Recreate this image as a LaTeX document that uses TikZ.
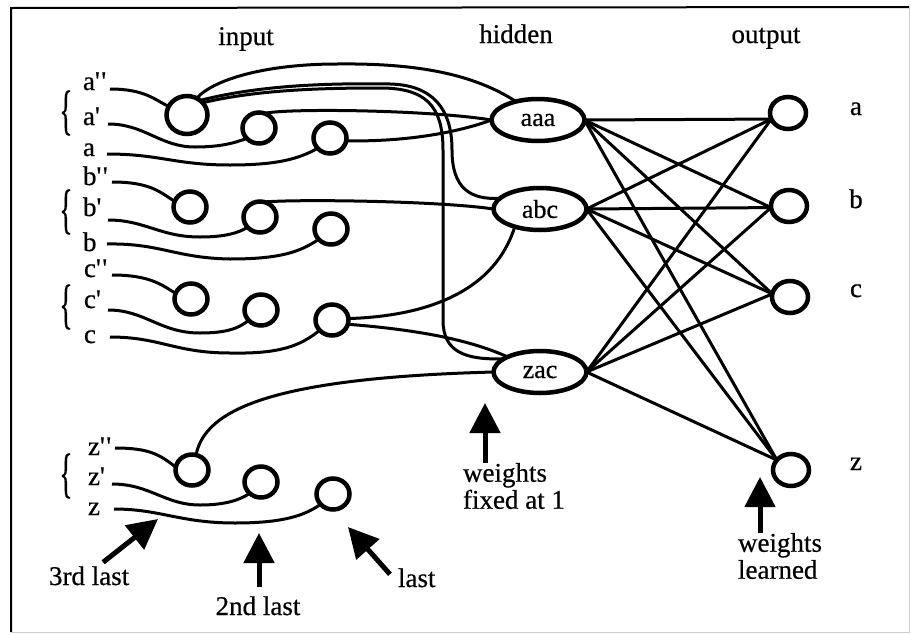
\documentclass[tikz,border=0pt]{standalone}
\usepackage{fontspec}
\setmainfont{Liberation Serif}[FakeBold=0.6]
\usepackage{graphicx}
\usetikzlibrary{arrows.meta,shapes.geometric}
\newcommand{\pr}{\textquotesingle}
\newcommand{\ppr}{\textquotesingle\kern1.5pt\textquotesingle}
\begin{document}
\begin{tikzpicture}[x=1pt,y=-1pt,
  every node/.style={font=\fontsize{27}{27}\selectfont, inner sep=0pt, outer sep=0pt},
  inc/.style={ellipse, draw, line width=4.5pt, minimum width=33pt, minimum height=31pt},
  bigc/.style={inc, minimum width=41pt, minimum height=38pt},
  hid/.style={ellipse, draw, line width=4.5pt, minimum width=93pt, minimum height=42pt, font=\fontsize{26}{26}\selectfont},
  outc/.style={ellipse, draw, line width=4.5pt, minimum width=36pt, minimum height=32pt},
  wire/.style={line width=3pt},
  link/.style={line width=3pt},
  bigarr/.style={line width=5pt, -{Triangle[length=30pt,width=30pt]}},
  lbl/.style={anchor=base west},
  brc/.style={anchor=center}
]
\useasboundingbox (0,0) rectangle (911,635);
% frame
\draw[line width=2pt] (11,632) -- (11,8) -- (909,7);
\draw[line width=1pt, black!20] (909,7) -- (909,632) -- (11,632);

% headers
\node[anchor=base] (hin) at (246,45) {input};
\node[anchor=base] (hhid) at (516,43) {hidden};
\node[anchor=base] (hout) at (766,43) {output};

% left labels
\node[lbl] (ta2) at (83,90) {a\ppr};
\node[lbl] (ta1) at (83,125) {a\pr};
\node[lbl] (ta0) at (83,156) {a};
\node[lbl] (tb2) at (83,185) {b\ppr};
\node[lbl] (tb1) at (83,216) {b\pr};
\node[lbl] (tb0) at (83,251) {b};
\node[lbl] (tc2) at (84,277) {c\ppr};
\node[lbl] (tc1) at (84,308) {c\pr};
\node[lbl] (tc0) at (84,343) {c};
\node[lbl] (tz2) at (88,455) {z\ppr};
\node[lbl] (tz1) at (88,485) {z\pr};
\node[lbl] (tz0) at (88,515) {z};

% braces
\node[brc] (bra) at (66,113) {\scalebox{1}[2]{\{}};
\node[brc] (brb) at (66,212) {\scalebox{1}[2]{\{}};
\node[brc] (brc) at (66,307) {\scalebox{1}[2]{\{}};
\node[brc] (brz) at (66,476) {\scalebox{1}[2]{\{}};

% input units
\node[bigc] (a2) at (187,115) {};
\node[inc] (a1) at (259,128) {};
\node[inc] (a0) at (330,138) {};
\node[inc] (b2) at (190,207) {};
\node[inc] (b1) at (260,217) {};
\node[inc] (b0) at (331,229) {};
\node[inc] (c2) at (191,299) {};
\node[inc] (c1) at (261,310) {};
\node[inc] (c0) at (332,320) {};
\node[inc] (z2) at (192,470) {};
\node[inc] (z1) at (261,482) {};
\node[inc] (z0) at (333,494) {};

% hidden units
\node[hid] (aaa) at (538,120) {aaa};
\node[hid] (abc) at (540,209) {abc};
\node[hid] (zac) at (540,372) {zac};

% output units
\node[outc] (oa) at (788,113) {};
\node[outc] (ob) at (789,206) {};
\node[outc] (oc) at (790,297) {};
\node[outc] (oz) at (791,470) {};
\node[anchor=base] (toa) at (856,115) {a};
\node[anchor=base] (tob) at (856,208) {b};
\node[anchor=base] (toc) at (856,297) {c};
\node[anchor=base] (toz) at (856,470) {z};

% wire starts
\coordinate (la2) at (110,89);
\coordinate (la1) at (108,124);
\coordinate (la0) at (107,154);
\coordinate (lb2) at (112,182);
\coordinate (lb1) at (108,220);
\coordinate (lb0) at (107,244);
\coordinate (lc2) at (112,275);
\coordinate (lc1) at (108,310);
\coordinate (lc0) at (110,337);
\coordinate (lz2) at (115,448);
\coordinate (lz1) at (112,484);
\coordinate (lz0) at (114,509);

% input wires
\draw[wire] (la2) .. controls (145,89) and (155,100) .. (a2.155);
\draw[wire] (la1) .. controls (145,124) and (160,147) .. (195,147) .. controls (220,147) and (235,143) .. (a1.220);
\draw[wire] (la0) .. controls (160,154) and (175,165) .. (230,165) .. controls (280,165) and (300,158) .. (a0.220);
\draw[wire] (lb2) .. controls (150,182) and (160,192) .. (b2.160);
\draw[wire] (lb1) .. controls (145,220) and (160,237) .. (200,237) .. controls (225,237) and (238,233) .. (b1.220);
\draw[wire] (lb0) .. controls (160,243) and (175,258) .. (230,259) .. controls (280,259) and (300,252) .. (b0.220);
\draw[wire] (lc2) .. controls (150,275) and (162,285) .. (c2.160);
\draw[wire] (lc1) .. controls (145,310) and (160,333) .. (200,333) .. controls (225,333) and (238,329) .. (c1.220);
\draw[wire] (lc0) .. controls (160,337) and (175,353) .. (230,353) .. controls (280,354) and (300,346) .. (c0.220);
\draw[wire] (lz2) .. controls (150,448) and (160,455) .. (z2.170);
\draw[wire] (lz1) .. controls (150,484) and (165,505) .. (200,505) .. controls (225,505) and (240,500) .. (z1.225);
\draw[wire] (lz0) .. controls (160,509) and (180,523) .. (235,523) .. controls (285,523) and (305,515) .. (z0.220);

% input -> hidden (weights fixed at 1)
\draw[wire] (a2.60) .. controls (215,78) and (270,64) .. (337,64) .. controls (420,63) and (475,75) .. (aaa.140);
\draw[wire] (a2.48) .. controls (260,85) and (330,83) .. (390,84) .. controls (432,85) and (452,108) .. (452,150) .. controls (452,188) and (470,200) .. (abc.165);
\draw[wire] (a2.38) .. controls (260,89) and (330,88) .. (380,88) .. controls (425,88) and (443,105) .. (443,150) -- (443,320) .. controls (443,352) and (465,360) .. (zac.160);
\draw[wire] (a1.70) .. controls (290,108) and (430,110) .. (aaa.west);
\draw[wire] (a0.-10) .. controls (420,142) and (470,128) .. (aaa.west);
\draw[wire] (b1.75) .. controls (300,199) and (440,201) .. (abc.west);
\draw[wire] (c0.5) .. controls (430,316) and (495,290) .. (abc.215);
\draw[wire] (c0.-15) .. controls (420,330) and (470,340) .. (zac.155);
\draw[wire] (z2.75) .. controls (205,410) and (270,378) .. (zac.west);

% hidden -> output (weights learned)
\foreach \h in {aaa,abc,zac}{
  \draw[link] (\h.east) -- (oa.200);
  \draw[link] (\h.east) -- (ob.185);
  \draw[link] (\h.east) -- (oc.170);
  \draw[link] (\h.east) -- (oz.145);
}

% annotation arrows
\coordinate (tipf) at (485,403);
\node[anchor=north west, align=left] (wf) at (463,463) {weights\\fixed at 1};
\draw[bigarr] (tipf |- wf.north) -- (tipf);

\coordinate (tipl) at (760,477);
\node[anchor=north west, align=left] (wl) at (738,533) {weights\\learned};
\draw[bigarr] (tipl |- wl.north) -- (tipl);

\node[anchor=base west] (l3) at (49,585) {3rd last};
\coordinate (tip3) at (158,519);
\draw[bigarr] ([xshift=14pt,yshift=4pt]l3.north) -- (tip3);

\node[anchor=base] (l2) at (258,615) {2nd last};
\coordinate (tip2) at (259,533);
\path ([yshift=9pt]l2.north) coordinate (l2top);
\draw[bigarr] (l2top -| tip2) -- (tip2);

\node[anchor=base west] (l1) at (398,587) {last};
\coordinate (tip1) at (348,527);
\draw[bigarr] ([xshift=-8pt,yshift=-6pt]l1.north west) -- (tip1);
\end{tikzpicture}
\end{document}
